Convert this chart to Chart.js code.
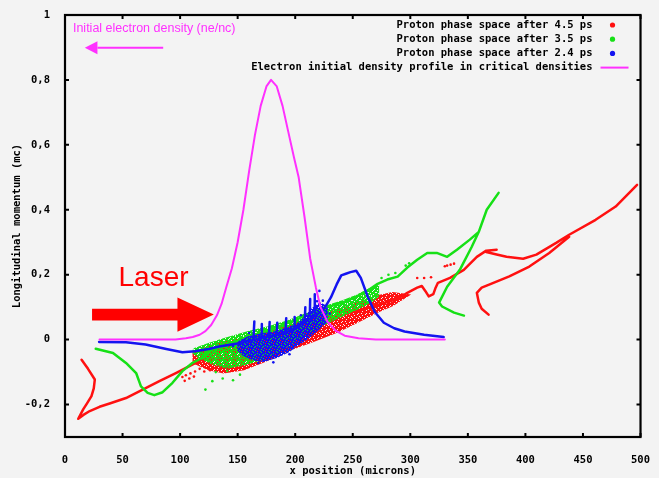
<!DOCTYPE html>
<html>
<head>
<meta charset="utf-8">
<script src="https://cdn.jsdelivr.net/npm/chart.js@4.4.1/dist/chart.umd.min.js"></script>
<style>
  html, body { margin: 0; padding: 0; background: #f2f2f2; }
  canvas { display: block; }
</style>
</head>
<body>
<canvas id="chart" width="659" height="478"></canvas>
<script>
// axes
const xTicks = [0, 50, 100, 150, 200, 250, 300, 350, 400, 450, 500];
const yTicks = [-0.2, 0, 0.2, 0.4, 0.6, 0.8, 1];
const yTickLabels = ['-0,2', '0', '0,2', '0,4', '0,6', '0,8', '1'];

const legendLabels = [
  'Proton phase space after 4.5 ps',
  'Proton phase space after 3.5 ps',
  'Proton phase space after 2.4 ps',
  'Electron initial density profile in critical densities'
];

// electron initial density (magenta)
const densityX = [30, 60, 96, 105, 111, 117, 122, 127, 132, 136, 140, 145, 150, 155, 160, 165, 170, 175, 179,
  184, 189, 194, 199, 203, 208, 213, 218, 222, 228, 235, 243, 255, 270, 300, 330];
const densityY = [0, 0, 0, 0.004, 0.008, 0.015, 0.026, 0.045, 0.075, 0.11, 0.16, 0.22, 0.3, 0.4, 0.52, 0.63, 0.72, 0.78, 0.8,
  0.78, 0.72, 0.64, 0.56, 0.5, 0.38, 0.25, 0.16, 0.1, 0.055, 0.028, 0.012, 0.004, 0, 0, 0];

// 2.4 ps (blue)
const blueLine = [[29.6, -0.007], [53, -0.008], [70, -0.015], [88, -0.029], [102, -0.039], [113, -0.036], [125, -0.029],
  [134, -0.021], [150, -0.012], [165, 0], [180, 0.012], [192, 0.022], [202, 0.04], [211, 0.06], [218, 0.075], [222, 0.085],
  [226, 0.1], [231, 0.13], [236, 0.17], [240, 0.198], [244, 0.203], [248, 0.208], [253, 0.212], [257, 0.19], [263, 0.132],
  [269, 0.086], [277, 0.052], [286, 0.035], [295, 0.025], [312, 0.015], [329, 0.008]];
const blueSpikes = [[163.8, 0.008], [164.5, 0.056], [164.5, null], [170.4, 0.01], [171, 0.048], [171, null],
  [177.2, 0.014], [177.8, 0.054], [177.8, null], [183.9, 0.018], [184.4, 0.052], [184.4, null],
  [191.6, 0.028], [192.2, 0.066], [192.2, null], [199, 0.04], [199.5, 0.07], [199.5, null],
  [208.3, 0.06], [208.8, 0.1], [208.8, null], [212.7, 0.075], [213, 0.125], [213, null], [216.5, 0.085], [217, 0.14]];
const blueDots = [[146, -0.02], [168, -0.072], [181, -0.07], [219, 0.118], [221, 0.15], [195, -0.045], [230, 0.08],
  [160, 0.02], [205, 0.075], [224, 0.12]];
const blueCloud = [[150.9, -0.009], [159.5, 0.006], [169.8, 0.014], [181, 0.02], [194, 0.034], [202.6, 0.046],
  [209.5, 0.07], [215.5, 0.094], [221.6, 0.11], [227, 0.1], [227, 0.058], [219.8, 0.034], [211.2, 0.008],
  [202.6, -0.013], [194, -0.035], [183.6, -0.052], [172.4, -0.064], [163.8, -0.06], [155.2, -0.046], [150.9, -0.031],
  [150.9, -0.009]];

// 3.5 ps (green)
const greenLine = [[26.7, -0.028], [41.7, -0.041], [53, -0.072], [61.8, -0.103], [66, -0.144], [71.8, -0.164],
  [77.6, -0.171], [84.8, -0.162], [93.4, -0.133], [102, -0.097], [110.6, -0.072], [119, -0.056], [128, -0.031],
  [145, -0.01], [165, 0.015], [185, 0.04], [200, 0.06], [213.8, 0.083], [228.4, 0.1], [241.4, 0.115], [254.3, 0.135],
  [264.7, 0.155], [271.6, 0.172], [280, 0.185], [289, 0.194], [297.4, 0.222], [306, 0.246], [314.7, 0.267],
  [323, 0.267], [332, 0.255], [340.5, 0.277], [351.7, 0.308], [359.5, 0.332], [366.4, 0.4], [376.7, 0.452],
  [376.7, null],
  [359.5, 0.332], [353.4, 0.286], [343, 0.215], [332, 0.163], [325, 0.114], [327.6, 0.102], [338, 0.083], [346.6, 0.074]];
const greenDots = [[122, -0.154], [128, -0.128], [137, -0.12], [146, -0.125], [152, -0.108], [131, -0.1], [141, -0.097],
  [281, 0.2], [287, 0.205], [296, 0.228], [299, 0.235], [275, 0.19]];
const greenCloud = [[112.1, -0.031], [125, -0.015], [137.9, 0], [159.5, 0.022], [176.7, 0.037], [194, 0.055],
  [213.8, 0.083], [228.4, 0.102], [241.4, 0.117], [254.3, 0.135], [264.7, 0.154], [271.6, 0.163], [271.6, 0.135],
  [264.7, 0.117], [254.3, 0.098], [241.4, 0.077], [228.4, 0.055], [213.8, 0.031], [198.3, -0.006], [185.3, -0.035],
  [169.8, -0.06], [155.2, -0.075], [140.5, -0.085], [126.7, -0.07], [116.4, -0.052], [112.1, -0.04], [112.1, -0.031]];

// 4.5 ps (red)
const redLine = [[14.4, -0.062], [20, -0.09], [25.9, -0.123], [25, -0.15], [23, -0.174], [19, -0.197], [15.8, -0.215],
  [11.5, -0.244], [16, -0.232], [21.5, -0.22], [30, -0.207], [38.8, -0.197], [53, -0.18], [67.5, -0.154], [82, -0.128],
  [96.3, -0.103], [110.6, -0.077], [125, -0.051], [133.6, -0.031], [150, -0.012], [175, 0.012], [200, 0.035],
  [225, 0.06], [250, 0.085], [270, 0.105], [288.8, 0.125], [297.4, 0.144], [306, 0.16], [310, 0.165], [313, 0.15],
  [316, 0.133], [320, 0.14], [322, 0.16], [324, 0.175], [334.5, 0.19], [346.5, 0.215], [357.8, 0.255], [366, 0.274],
  [375, 0.277], [375, null],
  [366, 0.27], [375, 0.262], [383.6, 0.255], [398, 0.249], [409.5, 0.262], [426.7, 0.298], [438, 0.323], [461, 0.369],
  [478.4, 0.41], [497, 0.477], [497, null],
  [368, 0.077], [362, 0.095], [359.5, 0.114], [357.8, 0.144], [362, 0.16], [369, 0.17], [386, 0.195], [403.4, 0.225],
  [420.7, 0.267], [438, 0.317]];
const redDots = [[102, -0.115], [105, -0.11], [109, -0.104], [113, -0.098], [117, -0.09], [104, -0.127], [108, -0.12],
  [112, -0.114], [121, -0.098], [126, -0.094], [306, 0.19], [312, 0.19], [318, 0.192], [330, 0.226], [332, 0.228],
  [335, 0.231], [338, 0.234]];
const redCloud = [[112.1, -0.04], [129.3, -0.018], [150.9, 0], [172.4, 0.018], [194, 0.04],
  [215.5, 0.065], [237.1, 0.089], [254.3, 0.111], [271.6, 0.132], [284.5, 0.142], [297, 0.136],
  [284.5, 0.108], [271.6, 0.088], [254.3, 0.057], [237.1, 0.027], [215.5, -0.003], [194, -0.031], [172.4, -0.066],
  [155.2, -0.09], [137.9, -0.1], [125, -0.09], [112.1, -0.07], [112.1, -0.04]];

const RED = '#ff1010', GREEN = '#16e016', BLUE = '#1414f0', MAGENTA = '#ff30ff';

// speckled fill so that lower clouds show through, like dense particle plots
function speckle(color, mask) {
  const c = document.createElement('canvas');
  c.width = mask[0].length;
  c.height = mask.length;
  const g = c.getContext('2d');
  g.fillStyle = color;
  mask.forEach((row, j) => [...row].forEach((ch, i) => { if (ch === '1') g.fillRect(i, j, 1, 1); }));
  return g.createPattern(c, 'repeat');
}
const maskA = ['11111011', '10111111', '11101110', '11111101', '01111111', '11011011', '11111110', '10110111'];
const maskB = ['11101111', '11111101', '10111011', '11110111', '01111110', '11011111', '11111011', '10101111'];
const maskC = ['11111111', '10111101', '11111011', '11011111', '11111110', '01110111', '11111101', '11011111'];

const pts = arr => arr.map(([x, y]) => ({ x, y }));
const line = (data, color, width) => ({
  data: pts(data), borderColor: color, borderWidth: width, pointRadius: 0,
  tension: 0, fill: false, borderJoinStyle: 'round', borderCapStyle: 'round'
});
const dots = (data, color) => ({
  data: pts(data), showLine: false, pointRadius: 1.3, pointBorderWidth: 0,
  pointBackgroundColor: color, borderColor: color
});
const cloud = (data, color, mask) => {
  const p = speckle(color, mask);
  return { data: pts(data), borderColor: p, backgroundColor: p, borderWidth: 3, pointRadius: 0, tension: 0, fill: 'shape' };
};

// first dataset is drawn on top
const datasets = [
  line(densityX.map((x, i) => [x, densityY[i]]), MAGENTA, 2),
  line(blueLine, BLUE, 2.5),
  line(blueSpikes, BLUE, 2.5),
  dots(blueDots, BLUE),
  cloud(blueCloud, BLUE, maskA),
  line(greenLine, GREEN, 2.5),
  dots(greenDots, GREEN),
  cloud(greenCloud, GREEN, maskB),
  line(redLine, RED, 2.5),
  dots(redDots, RED),
  cloud(redCloud, RED, maskC)
];

const MONO = '"DejaVu Sans Mono", monospace';

const background = {
  id: 'background',
  beforeDraw(chart) {
    const { ctx } = chart;
    ctx.save();
    ctx.fillStyle = '#f3f3f3';
    ctx.fillRect(0, 0, chart.width, chart.height);
    ctx.restore();
  }
};

// laser arrow, label and the magenta note, placed in data units
const laser = { x0: 23.5, x1: 97.7, tip: 129.3, y: 0.077, shaft: 0.018, head: 0.053, textX: 46.5, textY: 0.166 };
const note = { textX: 6.9, textY: 0.957, x0: 85.3, x1: 17.2, y: 0.899, headLen: 11, headH: 0.02 };

const annotations = {
  id: 'annotations',
  afterDatasetsDraw(chart) {
    const { ctx, scales: { x, y } } = chart;
    const X = v => x.getPixelForValue(v), Y = v => y.getPixelForValue(v);
    ctx.save();
    ctx.fillStyle = '#ff0000';
    ctx.beginPath();
    ctx.moveTo(X(laser.x0), Y(laser.y + laser.shaft));
    ctx.lineTo(X(laser.x1), Y(laser.y + laser.shaft));
    ctx.lineTo(X(laser.x1), Y(laser.y + laser.head));
    ctx.lineTo(X(laser.tip), Y(laser.y));
    ctx.lineTo(X(laser.x1), Y(laser.y - laser.head));
    ctx.lineTo(X(laser.x1), Y(laser.y - laser.shaft));
    ctx.lineTo(X(laser.x0), Y(laser.y - laser.shaft));
    ctx.closePath();
    ctx.fill();
    ctx.font = '28px "Liberation Sans", Arial, sans-serif';
    ctx.textBaseline = 'alphabetic';
    ctx.fillText('Laser', X(laser.textX), Y(laser.textY));

    ctx.fillStyle = MAGENTA;
    ctx.strokeStyle = MAGENTA;
    ctx.font = '12.5px "Liberation Sans", Arial, sans-serif';
    ctx.textBaseline = 'middle';
    ctx.fillText('Initial electron density (ne/nc)', X(note.textX), Y(note.textY));
    ctx.lineWidth = 2;
    ctx.beginPath();
    ctx.moveTo(X(note.x0), Y(note.y));
    ctx.lineTo(X(note.x1 + note.headLen), Y(note.y));
    ctx.stroke();
    ctx.beginPath();
    ctx.moveTo(X(note.x1), Y(note.y));
    ctx.lineTo(X(note.x1 + note.headLen), Y(note.y + note.headH));
    ctx.lineTo(X(note.x1 + note.headLen), Y(note.y - note.headH));
    ctx.closePath();
    ctx.fill();
    ctx.restore();
  }
};

// gnuplot style key, top right inside the frame
const key = {
  id: 'key',
  afterDraw(chart) {
    const { ctx, chartArea: a } = chart;
    const colors = [RED, GREEN, BLUE, MAGENTA];
    ctx.save();
    ctx.font = 'bold 10.5px ' + MONO;
    ctx.textAlign = 'right';
    ctx.textBaseline = 'middle';
    legendLabels.forEach((label, i) => {
      const yy = a.top + 10 + i * 14.2;
      ctx.fillStyle = '#000';
      ctx.fillText(label, a.right - 48, yy);
      ctx.fillStyle = colors[i];
      ctx.strokeStyle = colors[i];
      if (i < 3) {
        ctx.beginPath();
        ctx.arc(a.right - 28, yy, 2.6, 0, Math.PI * 2);
        ctx.fill();
      } else {
        ctx.lineWidth = 2;
        ctx.beginPath();
        ctx.moveTo(a.right - 40, yy);
        ctx.lineTo(a.right - 12, yy);
        ctx.stroke();
      }
    });
    ctx.restore();
  }
};

// frame with inward tick marks on all four sides
const frame = {
  id: 'frame',
  afterDraw(chart) {
    const { ctx, chartArea: a, scales: { x, y } } = chart;
    ctx.save();
    ctx.strokeStyle = '#000';
    ctx.lineWidth = 2.2;
    ctx.strokeRect(a.left, a.top, a.right - a.left, a.bottom - a.top);
    ctx.lineWidth = 2;
    ctx.beginPath();
    xTicks.forEach(v => {
      const px = x.getPixelForValue(v);
      ctx.moveTo(px, a.bottom); ctx.lineTo(px, a.bottom - 4);
      ctx.moveTo(px, a.top); ctx.lineTo(px, a.top + 4);
    });
    yTicks.forEach(v => {
      const py = y.getPixelForValue(v);
      ctx.moveTo(a.left, py); ctx.lineTo(a.left + 4, py);
      ctx.moveTo(a.right, py); ctx.lineTo(a.right - 4, py);
    });
    ctx.stroke();
    ctx.restore();
  }
};

new Chart(document.getElementById('chart'), {
  type: 'line',
  data: { datasets },
  options: {
    responsive: false,
    devicePixelRatio: 1,
    animation: false,
    layout: { padding: { top: 15, right: 14, left: 0, bottom: 0 } },
    plugins: { legend: { display: false }, tooltip: { enabled: false } },
    scales: {
      x: {
        type: 'linear', min: 0, max: 500,
        afterBuildTicks: s => { s.ticks = xTicks.map(v => ({ value: v })); },
        afterFit: s => { s.height = 41; },
        grid: { display: false }, border: { display: false },
        ticks: { autoSkip: false, maxRotation: 0, padding: 9, color: '#000',
          font: { family: MONO, size: 10.5, weight: 'bold' } },
        title: { display: true, text: 'x position (microns)', color: '#000', padding: 0,
          font: { family: MONO, size: 10.5, weight: 'bold' } }
      },
      y: {
        type: 'linear', min: -0.3, max: 1,
        afterBuildTicks: s => { s.ticks = yTicks.map(v => ({ value: v })); },
        afterFit: s => { s.width = 65; },
        grid: { display: false }, border: { display: false },
        ticks: { padding: 7, color: '#000', font: { family: MONO, size: 10.5, weight: 'bold' },
          callback: v => yTickLabels[yTicks.indexOf(v)] },
        title: { display: true, text: 'Longitudinal momentum (mc)', color: '#000', padding: { top: 11, bottom: 0 },
          font: { family: MONO, size: 10.5, weight: 'bold' } }
      }
    }
  },
  plugins: [background, annotations, key, frame]
});
</script>
</body>
</html>
